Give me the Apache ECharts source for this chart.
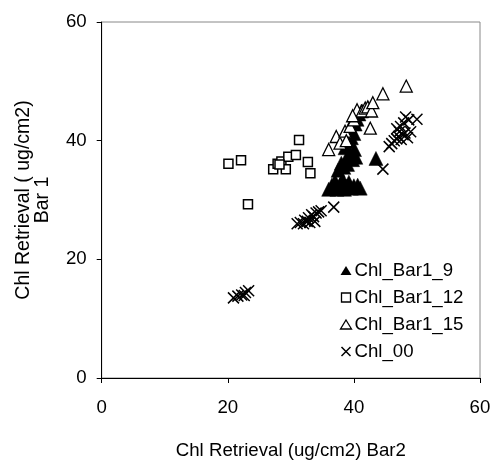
<!DOCTYPE html>
<html><head><meta charset="utf-8">
<script src="https://cdn.jsdelivr.net/npm/echarts@6/dist/echarts.min.js"></script>
<style>html,body{margin:0;padding:0;background:#fff}#c{width:494px;height:460px}</style>
</head><body><div id="c"></div>
<script>
const seriesNames = ['Chl_Bar1_9','Chl_Bar1_12','Chl_Bar1_15','Chl_00'];
const xTicks = [0,20,40,60];
const yTicks = [0,20,40,60];
const bar1_9 = [[36.0,31.8],[36.5,32.5],[37.0,33.2],[37.3,31.8],[37.8,32.6],[38.2,33.5],[38.5,31.8],[38.8,32.3],[39.2,33.0],[39.6,32.0],[40.0,32.4],[40.6,32.5],[41.0,32.0],[37.5,35.0],[38.0,36.2],[38.4,35.5],[38.8,37.0],[39.0,36.0],[39.4,37.8],[39.8,36.8],[40.1,38.5],[40.3,37.2],[38.6,38.8],[39.1,39.8],[39.6,40.5],[40.0,41.2],[39.5,42.0],[40.2,42.8],[40.5,43.6],[40.8,44.5],[41.2,45.0],[43.5,37.0]];
const bar1_12 = [[20.1,36.1],[22.1,36.7],[23.2,29.3],[27.2,35.2],[27.9,36.1],[28.5,36.5],[29.2,35.2],[29.6,37.3],[30.8,37.6],[31.3,40.1],[32.7,36.4],[33.1,34.5],[28.2,36.0]];
const bar1_15 = [[36.0,38.5],[37.2,40.7],[37.8,39.6],[38.6,41.6],[39.4,42.4],[40.0,43.5],[40.5,45.2],[41.3,45.0],[41.8,45.5],[42.2,45.7],[42.8,45.0],[43.0,46.4],[42.6,42.1],[44.6,47.9],[48.3,49.2],[38.8,40.0],[39.8,44.2]];
const chl_00 = [[20.9,13.5],[21.6,13.8],[22.2,14.0],[22.8,14.4],[23.3,14.7],[22.6,13.9],
 [31.0,26.0],[31.5,26.2],[32.0,26.0],[32.2,26.6],[32.6,26.4],[32.8,27.0],[33.0,26.2],[33.3,27.5],[33.6,27.2],[34.0,27.8],[34.4,28.0],[34.8,28.2],[33.8,26.4],[36.8,28.8],
 [44.6,35.2],[45.6,39.0],[46.0,39.5],[46.4,40.0],[46.8,40.3],[47.1,40.7],[47.5,40.2],[47.8,41.0],[48.1,41.3],[48.5,40.5],[49.0,41.5],[46.8,42.0],[47.4,42.4],[47.9,43.0],[48.7,43.5],[48.2,44.0],[50.0,43.6],[47.2,41.5]];

const F = 'Liberation Sans, Arial, sans-serif';
const FS = 18.67;
const chart = echarts.init(document.getElementById('c'));
chart.setOption({
  animation:false,
  grid:{left:101.7,right:14,top:22,bottom:82,show:true,borderColor:'#888',borderWidth:1,backgroundColor:'transparent',
    containLabel:false,outerBoundsMode:'none'},
  legend:{orient:'vertical',left:334,top:256,itemGap:8,itemWidth:11,itemHeight:9,
    textStyle:{fontFamily:F,fontSize:FS,color:'#000',padding:[0,0,0,-2]},
    data:[
      {name:seriesNames[0],icon:'triangle',itemStyle:{borderWidth:0}},
      {name:seriesNames[1],icon:'path://M1,1L7,1L7,7L1,7Z',itemStyle:{borderWidth:1.3}},
      {name:seriesNames[2],icon:'triangle',itemStyle:{borderWidth:1.3}},
      {name:seriesNames[3],icon:'path://M0,0L10,10M10,0L0,10',itemStyle:{borderWidth:1.5}}
    ]},
  xAxis:{type:'value',min:0,max:60,interval:20,
    name:'Chl Retrieval (ug/cm2) Bar2',nameLocation:'middle',nameGap:63,
    nameTextStyle:{fontFamily:F,fontSize:FS,color:'#000'},
    axisLine:{show:true,lineStyle:{color:'#000',width:1}},
    axisTick:{show:true,length:5,lineStyle:{color:'#000'}},
    axisLabel:{fontFamily:F,fontSize:FS,color:'#000',margin:20},
    splitLine:{show:false}},
  yAxis:{type:'value',min:0,max:60,interval:20,
    name:'Chl Retrieval ( ug/cm2)\nBar 1',nameLocation:'middle',nameGap:50,nameRotate:90,
    nameTextStyle:{fontFamily:F,fontSize:19.5,color:'#000',lineHeight:19},
    axisLine:{show:true,lineStyle:{color:'#000',width:1}},
    axisTick:{show:true,length:5,lineStyle:{color:'#000'}},
    axisLabel:{fontFamily:F,fontSize:FS,color:'#000',margin:15},
    splitLine:{show:false}},
  series:[
    {name:seriesNames[0],type:'scatter',data:bar1_9,symbol:'triangle',symbolSize:14,
      itemStyle:{color:'#000',borderColor:'#000',borderWidth:0.5,opacity:1}},
    {name:seriesNames[1],type:'scatter',data:bar1_12,symbol:'rect',symbolSize:9,
      itemStyle:{color:'#fff',borderColor:'#000',borderWidth:1.5,opacity:1}},
    {name:seriesNames[2],type:'scatter',data:bar1_15,symbol:'triangle',symbolSize:12,
      itemStyle:{color:'#fff',borderColor:'#000',borderWidth:1.3,opacity:1}},
    {name:seriesNames[3],type:'scatter',data:chl_00,symbol:'path://M0,0L10,10M10,0L0,10',symbolSize:11,
      itemStyle:{color:'none',borderColor:'#000',borderWidth:1.5,opacity:1}}
  ]
});
</script></body></html>
